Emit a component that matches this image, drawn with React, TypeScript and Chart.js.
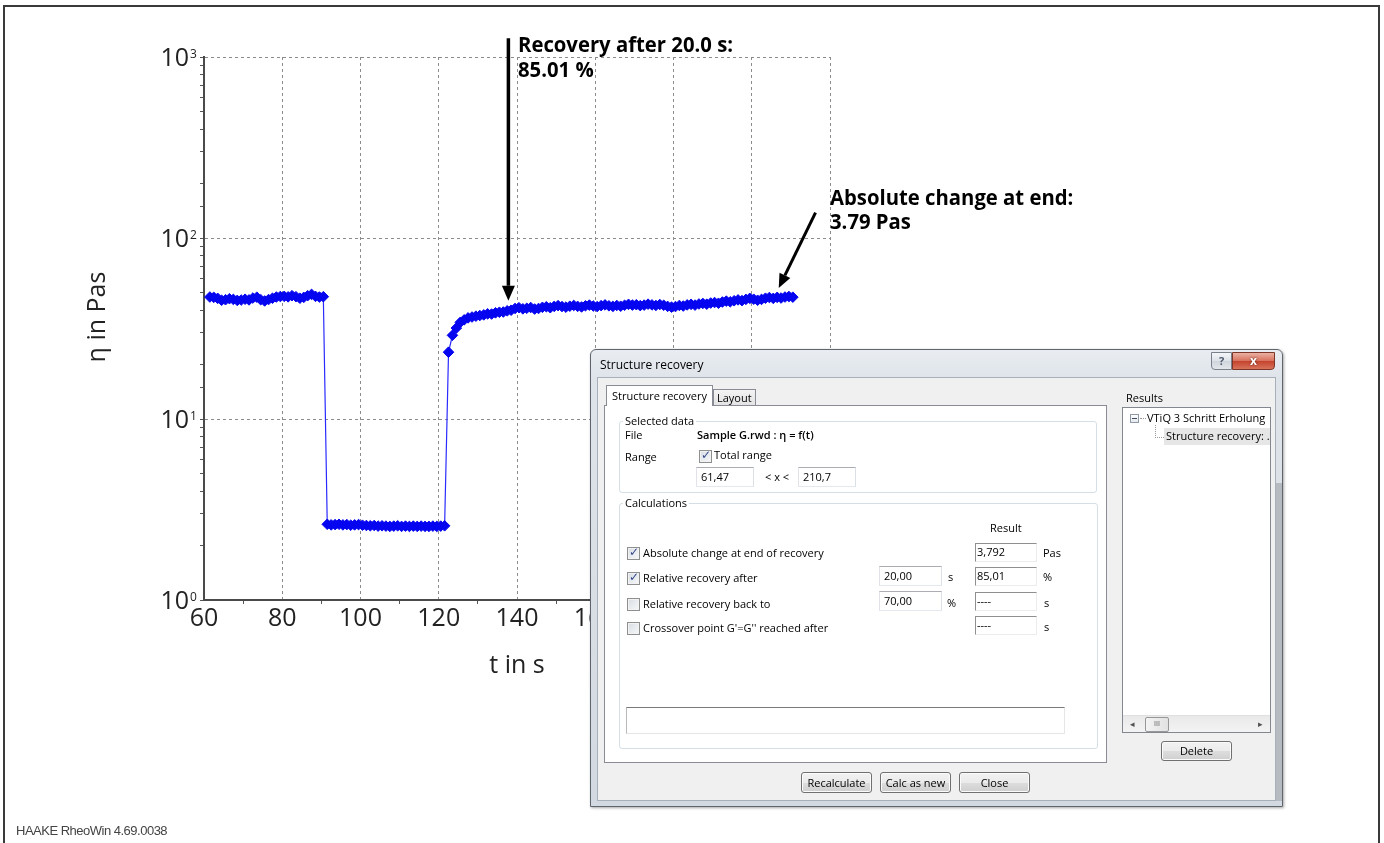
import React, { useEffect, useRef } from 'react';
import { Chart, registerables } from 'chart.js';

Chart.register(...registerables);

// ---------------- data ----------------
const timeS = [
  61.5, 62.5, 63.5, 64.5, 65.5, 66.5, 67.5, 68.5, 69.5, 70.5,
  71.5, 72.5, 73.5, 74.5, 75.5, 76.5, 77.5, 78.5, 79.5, 80.5,
  81.5, 82.5, 83.5, 84.5, 85.5, 86.5, 87.5, 88.5, 89.5, 90.5,
  91.5, 92.5, 93.5, 94.5, 95.5, 96.5, 97.5, 98.5, 99.5, 100.5,
  101.5, 102.5, 103.5, 104.5, 105.5, 106.5, 107.5, 108.5, 109.5, 110.5,
  111.5, 112.5, 113.5, 114.5, 115.5, 116.5, 117.5, 118.5, 119.5, 120.5,
  121.5, 122.5, 123.5, 124.5, 125.5, 126.5, 127.5, 128.5, 129.5, 130.5,
  131.5, 132.5, 133.5, 134.5, 135.5, 136.5, 137.5, 138.5, 139.5, 140.5,
  141.5, 142.5, 143.5, 144.5, 145.5, 146.5, 147.5, 148.5, 149.5, 150.5,
  151.5, 152.5, 153.5, 154.5, 155.5, 156.5, 157.5, 158.5, 159.5, 160.5,
  161.5, 162.5, 163.5, 164.5, 165.5, 166.5, 167.5, 168.5, 169.5, 170.5,
  171.5, 172.5, 173.5, 174.5, 175.5, 176.5, 177.5, 178.5, 179.5, 180.5,
  181.5, 182.5, 183.5, 184.5, 185.5, 186.5, 187.5, 188.5, 189.5, 190.5,
  191.5, 192.5, 193.5, 194.5, 195.5, 196.5, 197.5, 198.5, 199.5, 200.5,
  201.5, 202.5, 203.5, 204.5, 205.5, 206.5, 207.5, 208.5, 209.5, 210.5,
];

const viscosityPas = [
  47.2, 47.0, 46.4, 45.3, 45.6, 46.2, 45.8, 45.2, 45.4, 45.9,
  45.5, 46.6, 47.1, 45.6, 44.9, 45.7, 46.5, 47.2, 47.5, 47.6,
  47.3, 48.0, 47.4, 46.5, 47.0, 48.0, 48.8, 47.6, 47.2, 47.4,
  2.62, 2.60, 2.61, 2.62, 2.60, 2.61, 2.59, 2.60, 2.61, 2.59,
  2.58, 2.57, 2.58, 2.56, 2.57, 2.56, 2.55, 2.56, 2.57, 2.55,
  2.56, 2.55, 2.56, 2.55, 2.56, 2.55, 2.55, 2.56, 2.55, 2.56,
  2.57, 23.4, 29.0, 31.8, 34.2, 35.3, 36.2, 36.6, 37.0, 37.3,
  37.6, 38.1, 38.0, 38.6, 38.9, 39.0, 39.6, 39.9, 40.8, 41.2,
  40.6, 40.9, 41.3, 40.5, 40.8, 41.4, 41.7, 41.2, 41.9, 42.3,
  41.8, 41.5, 42.0, 42.4, 41.9, 41.6, 42.2, 42.6, 42.1, 41.8,
  42.3, 42.7, 42.2, 41.9, 42.4, 42.0, 42.5, 43.0, 42.6, 42.8,
  42.3, 42.6, 43.1, 42.7, 42.4, 42.9, 42.5, 41.9, 41.5, 41.8,
  42.4, 42.1, 42.7, 43.0, 42.6, 43.2, 43.5, 43.1, 43.7, 44.0,
  43.6, 44.3, 44.8, 44.4, 45.0, 45.5, 45.1, 45.8, 46.4, 45.9,
  45.3, 45.8, 46.5, 46.9, 46.4, 47.0, 46.6, 47.2, 47.5, 47.1,
];

const xTickLabels = ['60', '80', '100', '120', '140', '160', '180', '200', '220'];
const yTickExponents = [0, 1, 2, 3];
const xAxisTitle = 't in s';
const yAxisTitle = 'η in Pas';

const recoveryNote = ['Recovery after 20.0 s:', '85.01 %'];
const recoveryArrow = { fromT: 137.8, fromEta: 1270, toT: 137.8, toEta: 45 };
const changeNote = ['Absolute change at end:', '3.79 Pas'];
const changeArrow = { fromT: 216.3, fromEta: 138, toT: 206.9, toEta: 53 };

const footerText = 'HAAKE RheoWin 4.69.0038';

// ---------------- chart helpers ----------------
const FONT = '"Open Sans", "DejaVu Sans", sans-serif';

function drawArrow(ctx: CanvasRenderingContext2D, x1: number, y1: number, x2: number, y2: number, lw: number, hl: number, hw: number) {
  const ang = Math.atan2(y2 - y1, x2 - x1);
  const bx = x2 - Math.cos(ang) * hl;
  const by = y2 - Math.sin(ang) * hl;
  ctx.save();
  ctx.strokeStyle = '#000';
  ctx.fillStyle = '#000';
  ctx.lineWidth = lw;
  ctx.beginPath();
  ctx.moveTo(x1, y1);
  ctx.lineTo(bx, by);
  ctx.stroke();
  const nx = -Math.sin(ang), ny = Math.cos(ang);
  ctx.beginPath();
  ctx.moveTo(x2, y2);
  ctx.lineTo(bx + nx * hw / 2, by + ny * hw / 2);
  ctx.lineTo(bx - nx * hw / 2, by - ny * hw / 2);
  ctx.closePath();
  ctx.fill();
  ctx.restore();
}

const overlayPlugin = {
  id: 'overlay',
  afterDraw(chart: any) {
    const ctx: CanvasRenderingContext2D = chart.ctx;
    const xs = chart.scales.x;
    const ys = chart.scales.y;
    const area = chart.chartArea;
    ctx.save();
    ctx.fillStyle = '#222';

    // y tick labels (10^n)
    for (const e of yTickExponents) {
      const py = ys.getPixelForValue(Math.pow(10, e));
      ctx.font = `25px ${FONT}`;
      ctx.textAlign = 'right';
      ctx.textBaseline = 'alphabetic';
      ctx.fillText('10', area.left - 15, py + 9);
      ctx.font = `12px ${FONT}`;
      ctx.textAlign = 'left';
      ctx.fillText(String(e), area.left - 14, py + 0.5);
    }

    // axis titles
    ctx.font = `25px ${FONT}`;
    ctx.textAlign = 'center';
    ctx.textBaseline = 'alphabetic';
    ctx.fillText(xAxisTitle, (area.left + area.right) / 2, 673);
    ctx.save();
    ctx.translate(105, 317);
    ctx.rotate(-Math.PI / 2);
    ctx.fillText(yAxisTitle, 0, 0);
    ctx.restore();

    // arrows
    drawArrow(ctx,
      xs.getPixelForValue(recoveryArrow.fromT), ys.getPixelForValue(recoveryArrow.fromEta),
      xs.getPixelForValue(recoveryArrow.toT), ys.getPixelForValue(recoveryArrow.toEta), 3.5, 15, 13);
    drawArrow(ctx,
      xs.getPixelForValue(changeArrow.fromT), ys.getPixelForValue(changeArrow.fromEta),
      xs.getPixelForValue(changeArrow.toT), ys.getPixelForValue(changeArrow.toEta), 3, 14, 12);

    // annotation texts
    ctx.fillStyle = '#000';
    ctx.font = `bold 21px ${FONT}`;
    ctx.textAlign = 'left';
    ctx.textBaseline = 'alphabetic';
    const sx = 215 / ctx.measureText(recoveryNote[0]).width;
    const put = (t: string, x: number, y: number) => {
      ctx.save();
      ctx.translate(x, y);
      ctx.scale(sx, 1);
      ctx.fillText(t, 0, 0);
      ctx.restore();
    };
    put(recoveryNote[0], 518, 52);
    put(recoveryNote[1], 518, 77);
    put(changeNote[0], 830, 205);
    put(changeNote[1], 830, 229);
    ctx.restore();
  },
};

// ---------------- dialog pieces ----------------
const DF = '"Open Sans", "DejaVu Sans", sans-serif';
const base: React.CSSProperties = {
  position: 'absolute', fontFamily: DF, fontSize: 11, letterSpacing: 0, color: '#000',
  whiteSpace: 'nowrap', boxSizing: 'border-box',
};

const Txt = ({ x, cy, children, style }: any) => (
  <div style={{ ...base, left: x, top: cy - 8, height: 16, lineHeight: '16px', ...style }}>{children}</div>
);

const Btn = ({ x, y, w, h, label }: any) => (
  <div style={{
    ...base, left: x, top: y, width: w, height: h, border: '1px solid #707070', borderRadius: 3,
    background: 'linear-gradient(#f2f2f2 0%, #ebebeb 50%, #dddddd 51%, #cfcfcf 100%)',
    boxShadow: 'inset 0 0 0 1px #fbfbfb', textAlign: 'center', lineHeight: `${h - 2}px`,
  }}>{label}</div>
);

const Check = ({ x, cy, checked }: any) => (
  <div style={{
    ...base, left: x, top: cy - 6, width: 13, height: 13, border: '1px solid #8e8f8f',
    background: 'linear-gradient(135deg, #d8dde3, #f7f8fa)', boxShadow: 'inset 0 0 0 1px #f2f2f2',
  }}>
    {checked && <span style={{ position: 'absolute', left: 1, top: -3, fontSize: 12, fontWeight: 700, color: '#34498a', fontFamily: '"DejaVu Sans", sans-serif' }}>✓</span>}
  </div>
);

const Input = ({ x, y, w, h, value }: any) => (
  <div style={{
    ...base, left: x, top: y, width: w, height: h, background: '#fff',
    borderTop: '1px solid #abadb3', borderLeft: '1px solid #e2e3ea', borderRight: '1px solid #dbdfe6', borderBottom: '1px solid #e3e9ef',
    paddingLeft: 4, lineHeight: `${h - 2}px`,
  }}>{value}</div>
);

const ResultBox = ({ x, y, value }: any) => (
  <div style={{
    ...base, left: x, top: y, width: 62, height: 19, background: '#fff',
    borderTop: '1px solid #8f8f8f', borderLeft: '1px solid #8f8f8f', borderRight: '1px solid #ececec', borderBottom: '1px solid #ececec',
    paddingLeft: 1, lineHeight: '15px',
  }}>{value}</div>
);

const Group = ({ x, y, w, h, label }: any) => (
  <>
    <div style={{ ...base, left: x, top: y, width: w, height: h, border: '1px solid #d5dfe5', borderRadius: 3 }} />
    <Txt x={x + 4} cy={y} style={{ background: '#fff', padding: '0 2px' }}>{label}</Txt>
  </>
);

function Dialog() {
  return (
    <>
      {/* window frame */}
      <div style={{
        ...base, left: 590, top: 349, width: 693, height: 458, border: '1px solid #5f656d', borderRadius: '6px 6px 0 0',
        background: 'linear-gradient(#e9edf2 0px, #dfe4ea 28px, #d3d9e0 100%)', boxShadow: '1px 1px 3px rgba(0,0,0,0.35)',
      }} />
      <div style={{ ...base, left: 1276, top: 483, width: 6, height: 318, background: '#b6bbc1' }} />
      <Txt x={600} cy={365} style={{ fontSize: 12 }}>Structure recovery</Txt>
      <div style={{
        ...base, left: 1211, top: 352, width: 21, height: 18, border: '1px solid #7b818a', borderRadius: '0 0 0 4px',
        background: 'linear-gradient(#f4f6f9, #dde2e8 50%, #cfd5dc 51%, #e3e7ec)', textAlign: 'center', lineHeight: '15px',
        fontWeight: 700, color: '#4f5a6b', fontSize: 11,
      }}>?</div>
      <div style={{
        ...base, left: 1232, top: 352, width: 43, height: 18, border: '1px solid #7d3528', borderRadius: '0 0 4px 0',
        background: 'linear-gradient(#eab1a4, #d8705c 50%, #c4432c 51%, #d8735c)', textAlign: 'center', lineHeight: '15px',
        fontWeight: 700, color: '#fff', fontSize: 12, textShadow: '0 0 2px #5a1a10',
      }}>x</div>

      {/* client area */}
      <div style={{ ...base, left: 597, top: 377, width: 679, height: 424, background: '#f0f0f0', border: '1px solid #a7afb8' }} />

      {/* tab control */}
      <div style={{ ...base, left: 604, top: 405, width: 503, height: 358, background: '#fff', border: '1px solid #898c95' }} />
      <div style={{ ...base, left: 606, top: 385, width: 107, height: 21, background: '#fff', border: '1px solid #898c95', borderBottom: 'none' }} />
      <Txt x={612} cy={396}>Structure recovery</Txt>
      <div style={{ ...base, left: 713, top: 389, width: 43, height: 16, background: 'linear-gradient(#f3f3f3, #e3e3e3)', border: '1px solid #898c95', borderBottom: 'none' }} />
      <Txt x={717} cy={398}>Layout</Txt>

      {/* selected data */}
      <Group x={619} y={421} w={478} h={72} label="Selected data" />
      <Txt x={625} cy={435}>File</Txt>
      <Txt x={697} cy={435} style={{ fontWeight: 600 }}>Sample G.rwd : η = f(t)</Txt>
      <Txt x={625} cy={457}>Range</Txt>
      <Check x={699} cy={456} checked />
      <Txt x={714} cy={455}>Total range</Txt>
      <Input x={696} y={467} w={58} h={20} value="61,47" />
      <Txt x={765} cy={477}>&lt; x &lt;</Txt>
      <Input x={798} y={467} w={58} h={20} value="210,7" />

      {/* calculations */}
      <Group x={619} y={503} w={479} h={246} label="Calculations" />
      <Txt x={990} cy={528}>Result</Txt>

      <Check x={627} cy={553} checked />
      <Txt x={643} cy={553}>Absolute change at end of recovery</Txt>
      <ResultBox x={975} y={543} value="3,792" />
      <Txt x={1043} cy={553}>Pas</Txt>

      <Check x={627} cy={578} checked />
      <Txt x={643} cy={578}>Relative recovery after</Txt>
      <Input x={879} y={566} w={63} h={20} value="20,00" />
      <Txt x={948} cy={577}>s</Txt>
      <ResultBox x={975} y={567} value="85,01" />
      <Txt x={1043} cy={577}>%</Txt>

      <Check x={627} cy={604} checked={false} />
      <Txt x={643} cy={604}>Relative recovery back to</Txt>
      <Input x={879} y={591} w={63} h={20} value="70,00" />
      <Txt x={947} cy={603}>%</Txt>
      <ResultBox x={975} y={592} value="----" />
      <Txt x={1044} cy={603}>s</Txt>

      <Check x={627} cy={628} checked={false} />
      <Txt x={643} cy={628}>Crossover point G'=G'' reached after</Txt>
      <ResultBox x={975} y={616} value="----" />
      <Txt x={1044} cy={627}>s</Txt>

      <div style={{
        ...base, left: 626, top: 707, width: 439, height: 27, background: '#fff',
        borderTop: '1px solid #7a7a7a', borderLeft: '1px solid #b9b9b9', borderRight: '1px solid #e6e6e6', borderBottom: '1px solid #e6e6e6',
      }} />

      {/* results panel */}
      <Txt x={1126} cy={398}>Results</Txt>
      <div style={{ ...base, left: 1122, top: 407, width: 149, height: 326, background: '#fff', border: '1px solid #828790', overflow: 'hidden' }}>
        <div style={{ ...base, left: 7, top: 6, width: 9, height: 9, border: '1px solid #8f9aa6', background: 'linear-gradient(#fff,#e4e8ec)' }}>
          <div style={{ position: 'absolute', left: 1, top: 3, width: 5, height: 1, background: '#3d4a5c' }} />
        </div>
        <div style={{ position: 'absolute', left: 17, top: 10, width: 6, height: 0, borderTop: '1px dotted #9a9a9a' }} />
        <Txt x={24} cy={10}>VTiQ 3 Schritt Erholung</Txt>
        <div style={{ position: 'absolute', left: 32, top: 17, width: 8, height: 12, borderLeft: '1px dotted #9a9a9a', borderBottom: '1px dotted #9a9a9a' }} />
        <div style={{ position: 'absolute', left: 41, top: 20, width: 110, height: 17, background: '#e6e6e6' }} />
        <Txt x={43} cy={28}>Structure recovery: .</Txt>
        {/* horizontal scrollbar */}
        <div style={{ position: 'absolute', left: 0, top: 307, width: 147, height: 17, background: 'linear-gradient(#e9e9e9,#f4f4f4)', borderTop: '1px solid #e0e0e0' }}>
          <div style={{ ...base, left: 7, top: 1, fontSize: 9, color: '#505050', fontFamily: '"DejaVu Sans", sans-serif', lineHeight: '14px' }}>◂</div>
          <div style={{
            ...base, left: 22, top: 1, width: 24, height: 15, border: '1px solid #979797', borderRadius: 2,
            background: 'linear-gradient(90deg,#f3f3f3,#e2e2e2)', fontSize: 7, textAlign: 'center', lineHeight: '12px', color: '#555', letterSpacing: 0,
          }}>III</div>
          <div style={{ ...base, left: 135, top: 1, fontSize: 9, color: '#505050', fontFamily: '"DejaVu Sans", sans-serif', lineHeight: '14px' }}>▸</div>
        </div>
      </div>
      <Btn x={1161} y={741} w={71} h={20} label="Delete" />

      {/* bottom buttons */}
      <Btn x={801} y={772} w={71} h={21} label="Recalculate" />
      <Btn x={880} y={772} w={71} h={21} label="Calc as new" />
      <Btn x={959} y={772} w={71} h={21} label="Close" />
    </>
  );
}

export default function App() {
  const ref = useRef<HTMLCanvasElement>(null);

  useEffect(() => {
    if (!ref.current) return;
    const chart = new Chart(ref.current, {
      type: 'line',
      data: {
        datasets: [{
          data: timeS.map((t, i) => ({ x: t, y: viscosityPas[i] })),
          borderColor: '#2a2aff',
          borderWidth: 1.2,
          pointStyle: 'rectRot',
          pointRadius: 5.3,
          pointBackgroundColor: '#0505f0',
          pointBorderColor: '#0505f0',
          pointBorderWidth: 1,
          tension: 0,
        }],
      },
      options: {
        responsive: false,
        animation: false,
        events: [],
        layout: { padding: { left: 80, top: 57, right: 554, bottom: 183 } },
        plugins: { legend: { display: false }, tooltip: { enabled: false } },
        scales: {
          x: {
            type: 'linear',
            min: 60,
            max: 220,
            afterFit: (s: any) => { s.height = 60; },
            ticks: {
              stepSize: 10,
              autoSkip: false,
              maxRotation: 0,
              padding: 0,
              color: '#222',
              font: { family: FONT, size: 25 },
              callback: (v: any) => (xTickLabels.includes(String(v)) ? String(v) : ''),
            },
            grid: {
              color: (c: any) => (c.tick && xTickLabels.includes(String(c.tick.value)) ? '#8c8c8c' : 'rgba(0,0,0,0)'),
              lineWidth: 1,
              tickLength: 4,
              tickColor: (c: any) => (c.tick && !xTickLabels.includes(String(c.tick.value)) ? '#555' : 'rgba(0,0,0,0)'),
            },
            border: { display: true, color: '#4a4a4a', width: 2, dash: [3, 3] },
          },
          y: {
            type: 'logarithmic',
            min: 1,
            max: 1000,
            afterFit: (s: any) => { s.width = 124; },
            ticks: { display: false },
            grid: {
              color: (c: any) => {
                if (!c.tick) return 'rgba(0,0,0,0)';
                const e = Math.log10(c.tick.value);
                return Math.abs(e - Math.round(e)) < 1e-9 ? '#8c8c8c' : 'rgba(0,0,0,0)';
              },
              lineWidth: 1,
              tickLength: 4,
              tickColor: '#555',
            },
            border: { display: true, color: '#4a4a4a', width: 2, dash: [3, 3] },
          },
        },
      },
      plugins: [overlayPlugin],
    } as any);
    return () => chart.destroy();
  }, []);

  return (
    <div style={{ position: 'absolute', left: 0, top: 0, width: 1384, height: 843, overflow: 'hidden', background: '#fff' }}>
      <canvas ref={ref} width={1384} height={843} style={{ position: 'absolute', left: 0, top: 0, width: 1384, height: 843 }} />
      <div style={{ position: 'absolute', left: 3, top: 5, width: 1377, height: 900, boxSizing: 'border-box', border: '2px solid #3a3a3a' }} />
      <div style={{ ...base, left: 16, top: 823, fontFamily: '"Liberation Sans", Arial, sans-serif', fontSize: 13, letterSpacing: -0.5, color: '#444' }}>{footerText}</div>
      <Dialog />
    </div>
  );
}
